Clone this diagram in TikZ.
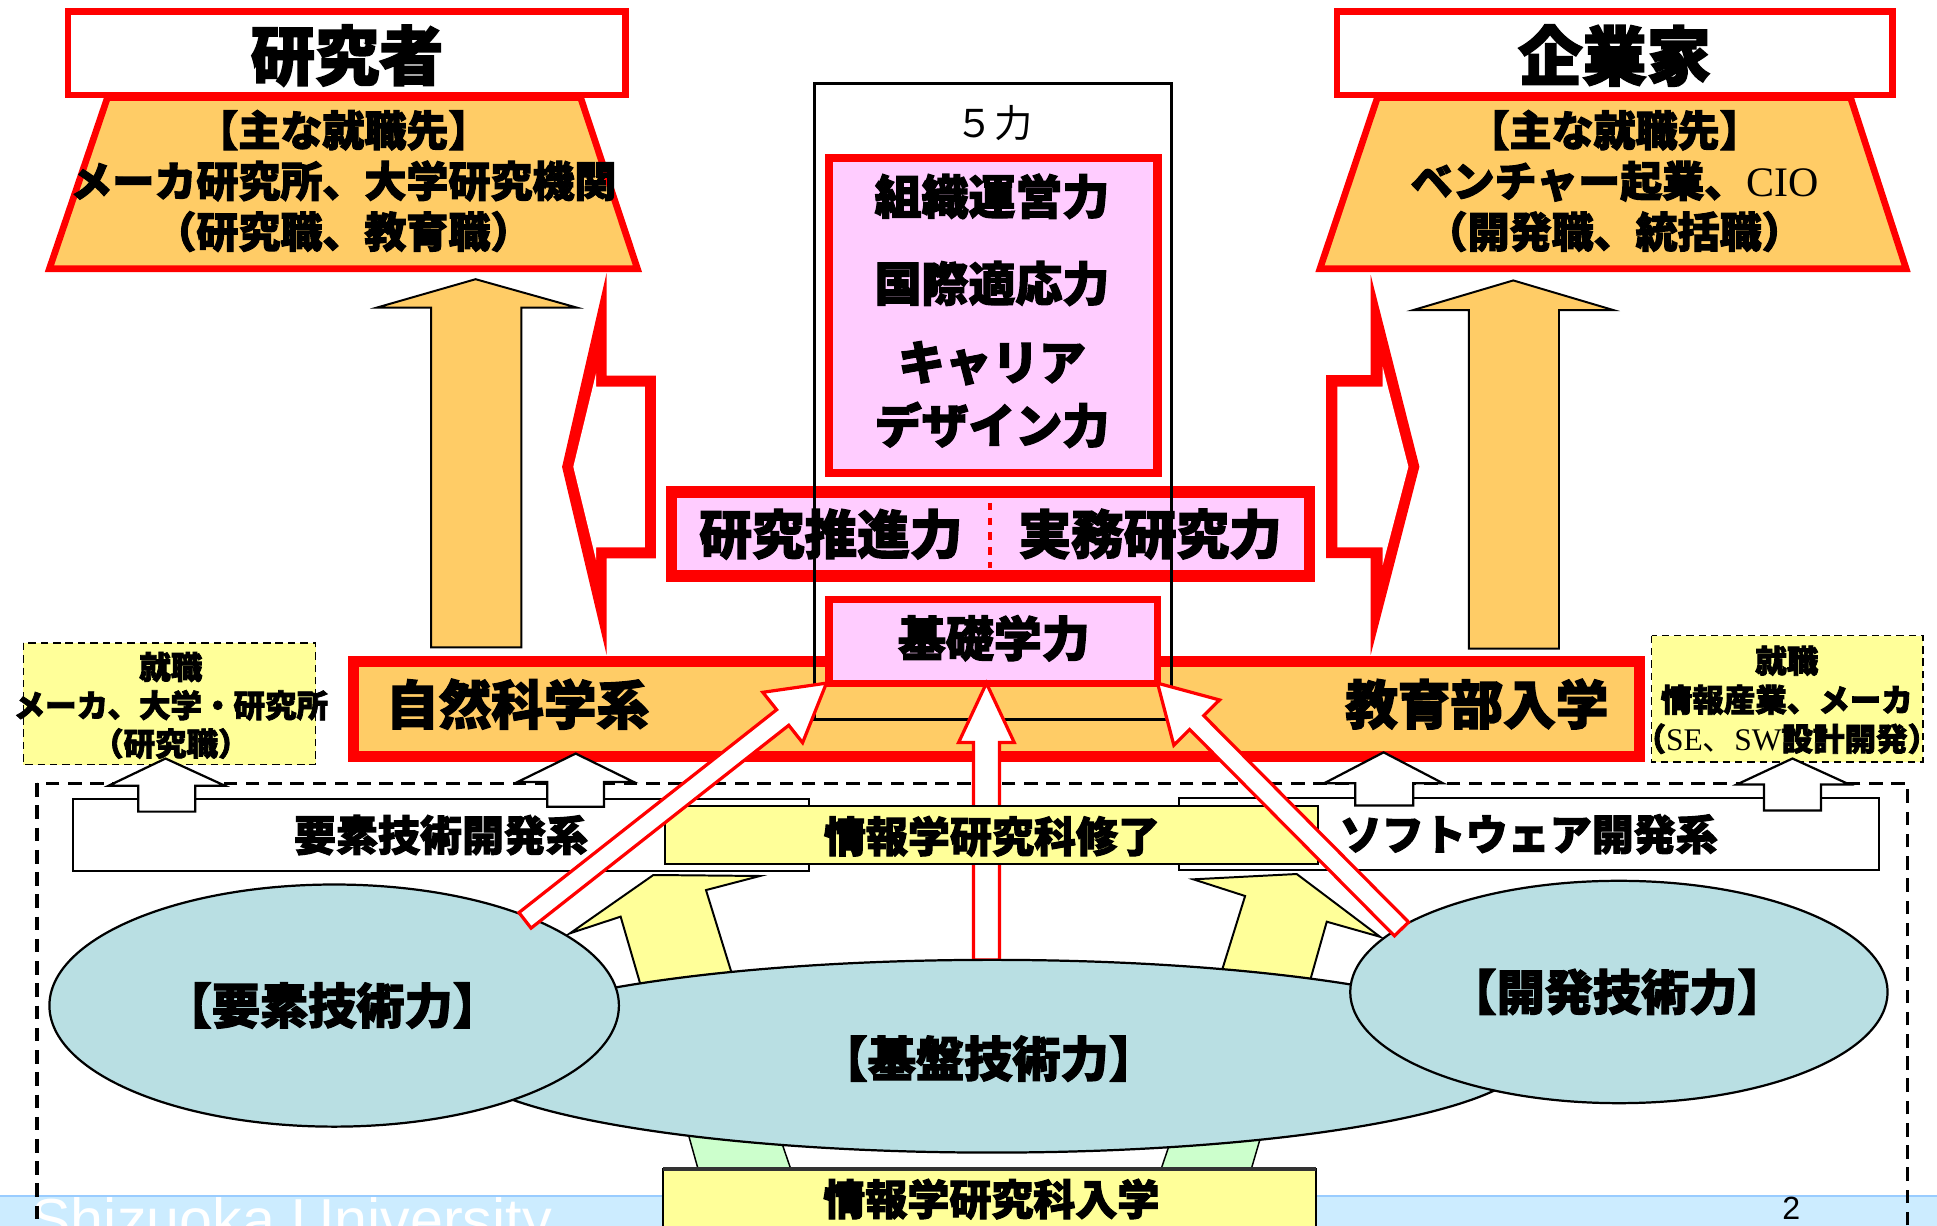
\documentclass[tikz,border=0pt]{standalone}
\usepackage{fontspec}
\setmainfont{Noto Sans CJK JP}[BoldFeatures={FakeBold=2.5}]
\newfontfamily\tms{Liberation Serif}
\newfontfamily\arl{Liberation Sans}
\newcommand{\myfs}[2]{\fontsize{#1}{#2}\selectfont}
\definecolor{cRed}{HTML}{FF0000}
\definecolor{cOrange}{HTML}{FFCC66}
\definecolor{cPink}{HTML}{FFCCFF}
\definecolor{cYellow}{HTML}{FFFF99}
\definecolor{cTeal}{HTML}{B9DFE3}
\definecolor{cGreen}{HTML}{CCFFCC}
\definecolor{cFoot}{HTML}{CCECFF}
\definecolor{cFootLine}{HTML}{99CCFF}
\tikzset{
  txt/.style={inner sep=0pt, font=\bfseries},
  redbox/.style={draw=cRed, fill=cPink},
  uparrow/.style={draw=black, fill=white, line width=0.9pt},
  orangearrow/.style={draw=black, fill=cOrange, line width=0.8pt},
  redarrow/.style={draw=cRed, fill=white, line width=1.3pt},
  plainbox/.style={draw=black, fill=white, line width=0.8pt},
  yelbox/.style={draw=black, fill=cYellow, line width=0.9pt},
  jobbox/.style={draw=black, fill=cYellow, line width=0.6pt, dash pattern=on 3pt off 2pt},
  ell/.style={draw=black, fill=cTeal, line width=0.9pt}
}
\begin{document}
\begin{tikzpicture}[x=0.5pt,y=-0.5pt]
\useasboundingbox (0,0) rectangle (1568,992);
\begin{scope}
\clip (0,0) rectangle (1568,992);
% footer
\fill[cFoot] (0,967) rectangle (1568,1000);
\draw[cFootLine, line width=1pt] (0,968) -- (1568,968);
\node[anchor=base west, inner sep=0pt, font=\arl\myfs{24}{24}, text=white] (univ) at (25,1004) {Shizuoka University};
\node[inner sep=0pt, font=\arl\myfs{13}{13}] (pg) at (1450,978) {2};

% trapezoids
\draw[fill=cOrange, draw=cRed, line width=2.7pt] (87,79) -- (470,79) -- (516,217.5) -- (40,217.5) -- cycle;
\draw[fill=cOrange, draw=cRed, line width=2.7pt] (1115,79) -- (1498,79) -- (1543,217.5) -- (1068.5,217.5) -- cycle;
% title boxes
\draw[fill=white, draw=cRed, line width=2.7pt] (55.1,9.4) rectangle (506.2,76.9);
\draw[fill=white, draw=cRed, line width=2.7pt] (1082.2,9.4) rectangle (1532.2,76.9);
\node[txt, font=\bfseries\myfs{26}{26}] (res) at (281,45) {研究者};
\node[txt, font=\bfseries\myfs{26}{26}] (ent) at (1307,45) {企業家};
\node[txt, align=center, font=\bfseries\myfs{17}{20.5}] (resjob) at (278,146.5) {【主な就職先】\\メーカ研究所、大学研究機関\\（研究職、教育職）};
\node[txt, align=center, font=\bfseries\myfs{17}{20.5}] (entjob) at (1307,146.5) {【主な就職先】\\ベンチャー起業、{\tms\mdseries CIO}\\（開発職、統括職）};

% orange up arrows
\draw[orangearrow] (349,524) -- (349,249) -- (305,249) -- (385,226) -- (467,249) -- (422,249) -- (422,524) -- cycle;
\draw[orangearrow] (1189,525) -- (1189,251) -- (1144,251) -- (1225,227) -- (1306,251) -- (1262,251) -- (1262,525) -- cycle;

% red hollow side arrows
\fill[cRed] (491,221) -- (491,304) -- (531,304) -- (531,452) -- (491,452) -- (491,530) -- (455,378) -- cycle;
\fill[white] (482.5,302.2) -- (482.5,313) -- (522,313) -- (522,443) -- (482.5,443) -- (482.5,453.3) -- (464.1,377.8) -- cycle;
\fill[cRed] (1109.6,222.6) -- (1109.6,303.6) -- (1073.4,303.6) -- (1073.4,451.7) -- (1109.6,451.7) -- (1109.6,530) -- (1149,377.8) -- cycle;
\fill[white] (1119.3,297) -- (1119.3,313) -- (1082.6,313) -- (1082.6,443) -- (1119.3,443) -- (1119.3,457.4) -- (1140.1,377.8) -- cycle;

% pink boxes
\draw[redbox, line width=3.35pt] (671.3,128) rectangle (937,383);
\node[txt, font=\bfseries\myfs{19}{19}] (f1) at (803,159) {組織運営力};
\node[txt, font=\bfseries\myfs{19}{19}] (f2) at (803,229.5) {国際適応力};
\node[txt, font=\bfseries\myfs{19}{19}] (f3) at (803,294) {キャリア};
\node[txt, font=\bfseries\myfs{19}{19}] (f4) at (803,344) {デザイン力};
\draw[redbox, line width=4.7pt] (543.5,398.1) rectangle (1059.9,466.2);
\draw[cRed, line width=1.5pt, dash pattern=on 3pt off 3pt] (801.5,407) -- (801.5,460);
\node[txt, font=\bfseries\myfs{21.3}{21.3}] (r1) at (672.6,432.4) {研究推進力};
\node[txt, font=\bfseries\myfs{21.3}{21.3}] (r2) at (931,432.4) {実務研究力};

% orange band
\draw[fill=cOrange, draw=cRed, line width=4.45pt] (286.3,535.3) rectangle (1327,612.2);
\node[txt, font=\bfseries\myfs{21.3}{21.3}] (nat) at (419,570) {自然科学系};
\node[txt, font=\bfseries\myfs{21.3}{21.3}] (edu) at (1195.5,570) {教育部入学};
% basic box
\draw[redbox, line width=3.1pt] (671.3,485.3) rectangle (936.9,553.3);
\node[txt, font=\bfseries\myfs{19.4}{19.4}] (kiso) at (804.5,516.7) {基礎学力};
% 5 power outline
\draw[line width=1.1pt] (659.5,67.5) rectangle (948.5,582.5);
\node[inner sep=0pt, font=\myfs{15.5}{15.5}] (five) at (804.7,99.8) {５力};

% job boxes
\draw[jobbox] (19,520.5) rectangle (255.5,619);
\node[txt, align=center, font=\bfseries\myfs{12.75}{15.5}] (job1) at (138.3,571) {就職\\メーカ、大学・研究所\\（研究職）};
\draw[jobbox] (1337,514.5) rectangle (1556.5,617);
\node[txt, align=center, font=\bfseries\myfs{12.75}{15.8}] (job2) at (1446.4,566.5) {就職\\情報産業、メーカ\\（{\tms\mdseries SE}{\mdseries 、}{\tms\mdseries SW}設計開発）};

% dashed frame
\draw[line width=1.35pt, dash pattern=on 5.5pt off 3.5pt] (30,634) rectangle (1544,1010);

% white boxes
\draw[plainbox] (59,647) rectangle (655,705);
\node[txt, font=\bfseries\myfs{17}{17}] (elem) at (357,676) {要素技術開発系};
\draw[plainbox] (954,646) rectangle (1521,704.5);
\node[txt, font=\bfseries\myfs{17}{17}] (soft) at (1237.5,675.3) {ソフトウェア開発系};

% vertical red arrow
\draw[redarrow] (788,777) -- (788,601) -- (776,601) -- (798.5,553) -- (821,601) -- (809,601) -- (809,777) -- cycle;

% yellow box
\draw[yelbox] (538,652.5) rectangle (1067,699.5);
\node[txt, font=\bfseries\myfs{17}{17}] (fin) at (803,677) {情報学研究科修了};

% white up arrows
\draw[uparrow] (112,657) -- (112,636) -- (88,636) -- (134,614) -- (182,636) -- (158,636) -- (158,657) -- cycle;
\draw[uparrow] (443,653) -- (443,633) -- (419,633) -- (466,610) -- (513,633) -- (489,633) -- (489,653) -- cycle;
\draw[uparrow] (1097,652) -- (1097,634) -- (1072,634) -- (1120,609) -- (1168,634) -- (1144,634) -- (1144,652) -- cycle;
\draw[uparrow] (1428,656) -- (1428,635) -- (1406,635) -- (1451,614) -- (1497,635) -- (1474,635) -- (1474,656) -- cycle;

% yellow and green arrows
\draw[fill=cYellow, line width=0.8pt] (461.4,755.5) -- (528.9,708.3) -- (615.2,709.1) -- (571.5,720.5) -- (600.7,815) -- (523.7,815) -- (502.4,742) -- cycle;
\draw[fill=cYellow, line width=0.8pt] (966,711.8) -- (1049.7,707.5) -- (1117.1,758.3) -- (1074,746.1) -- (1054.5,815) -- (980,815) -- (1007.9,725.3) -- cycle;
\draw[fill=cGreen, line width=0.6pt] (553.5,905) -- (626,905) -- (640,946) -- (565,946) -- cycle;
\draw[fill=cGreen, line width=0.6pt] (954,905) -- (1025,905) -- (1013,946) -- (940,946) -- cycle;

% ellipses
\draw[ell] (803,855) ellipse [x radius=217.5pt, y radius=39pt];
\node[txt, font=\bfseries\myfs{19.5}{19.5}] (base) at (800,857) {【基盤技術力】};
\draw[ell] (270.5,814) ellipse [x radius=115.25pt, y radius=49pt];
\node[txt, font=\bfseries\myfs{19.5}{19.5}] (elemp) at (269,814) {【要素技術力】};
\draw[ell] (1310.5,803) ellipse [x radius=108.75pt, y radius=45pt];
\node[txt, font=\bfseries\myfs{19.5}{19.5}] (devp) at (1309,803) {【開発技術力】};

% entrance box
\draw[yelbox] (537,946.3) rectangle (1065,1010);
\draw[line width=1.6pt, black!80] (537,946.3) -- (1065,946.3);
\node[txt, font=\bfseries\myfs{17}{17}] (ent2) at (802.5,970.7) {情報学研究科入学};

% diagonal red arrows
\draw[redarrow] (420.1,738.7) -- (628.7,574.5) -- (617.5,560.4) -- (669,553) -- (649.7,601.2) -- (638.5,587.1) -- (429.9,751.3) -- cycle;
\draw[redarrow] (1140.2,746.4) -- (974.4,579.3) -- (987.2,566.6) -- (937,553) -- (950.2,603.2) -- (963,590.5) -- (1128.8,757.6) -- cycle;
\end{scope}
\end{tikzpicture}
\end{document}
